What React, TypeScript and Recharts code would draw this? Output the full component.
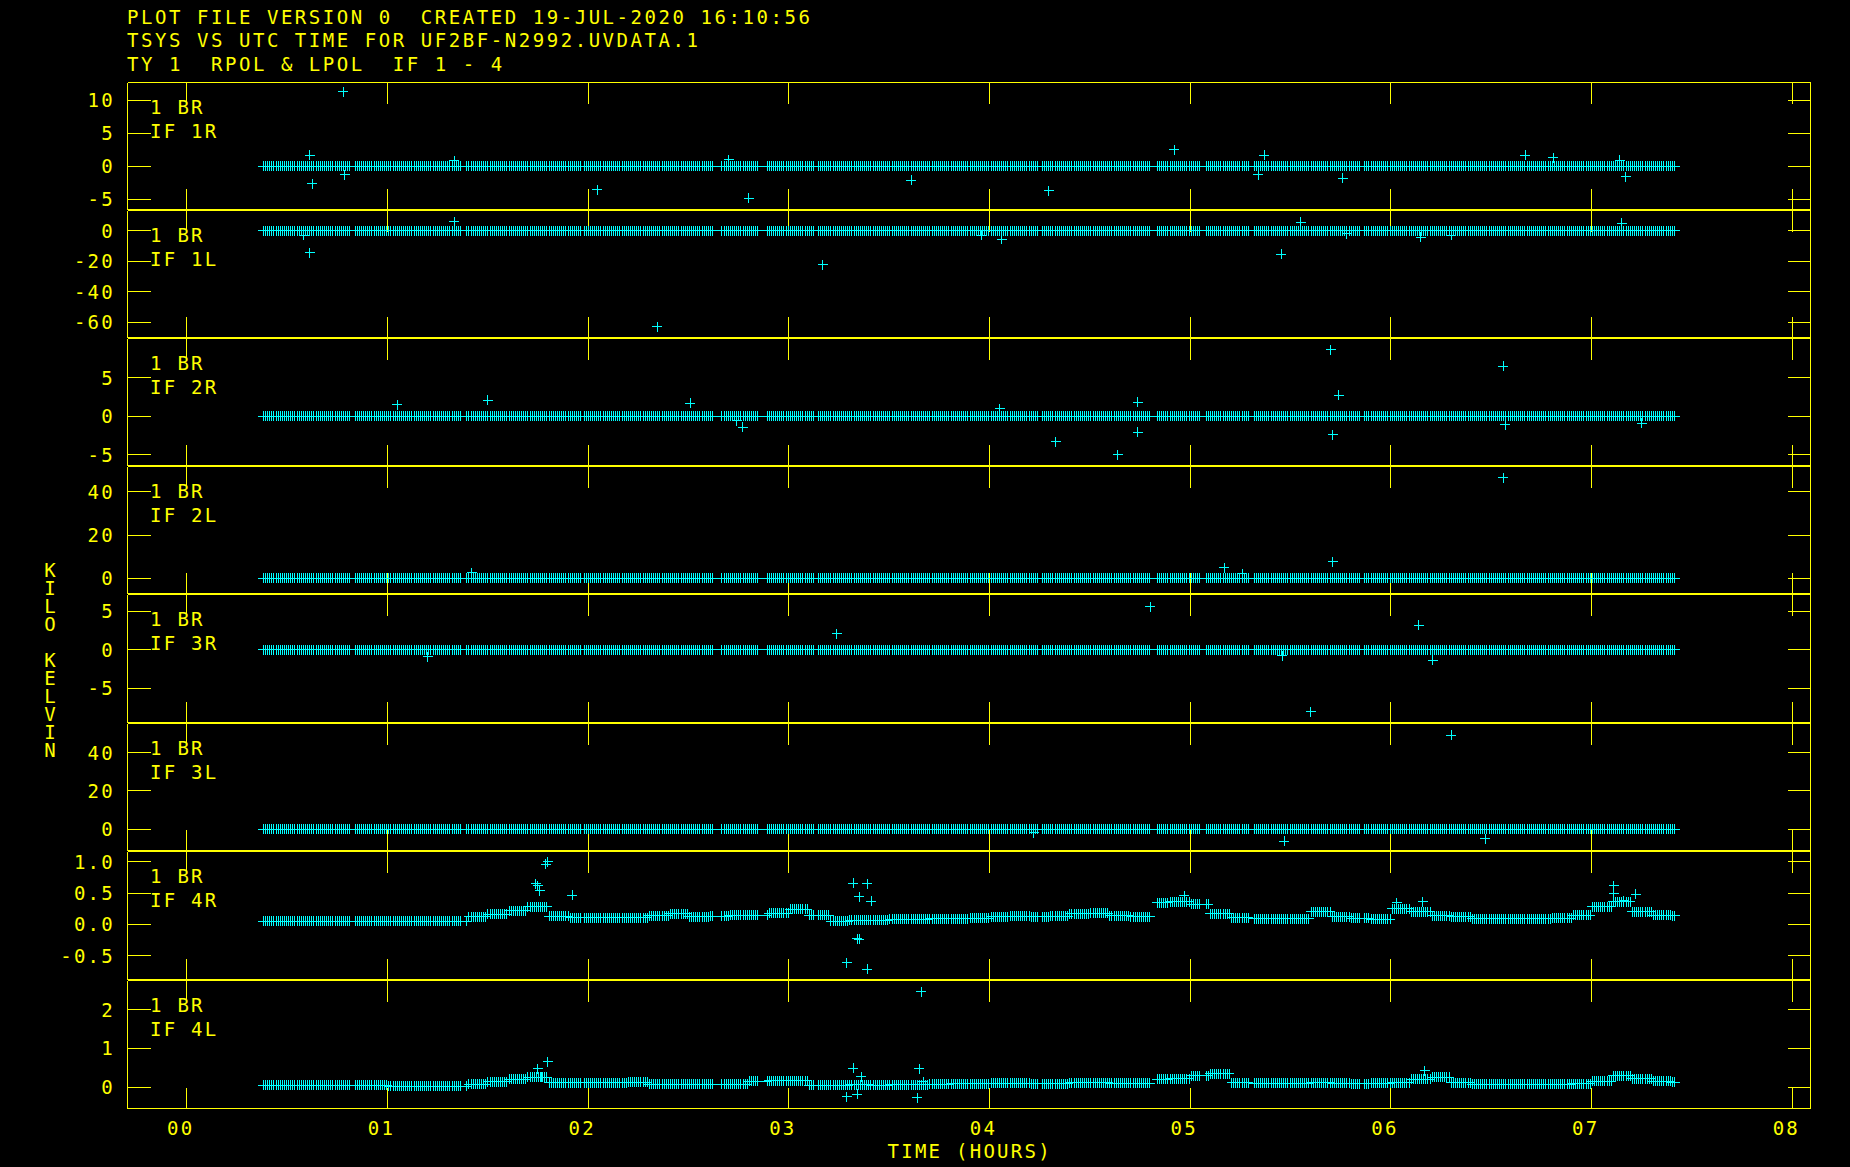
import React from 'react';
import { ScatterChart, Scatter, XAxis, YAxis } from 'recharts';

const CYAN = '#00ffff';
const YELLOW = '#ffff00';
const FONT = '"DejaVu Sans Mono", "Liberation Mono", monospace';

// header lines
const TITLE_LINES = [
  'PLOT FILE VERSION 0  CREATED 19-JUL-2020 16:10:56',
  'TSYS VS UTC TIME FOR UF2BF-N2992.UVDATA.1',
  'TY 1  RPOL & LPOL  IF 1 - 4',
];
const Y_LABEL = 'KILO\u00a0KELVIN';
const X_LABEL = 'TIME (HOURS)';

// x axis (hours)
const X_DOMAIN = [-0.295, 8.091];
const HOUR_TICKS = [0, 1, 2, 3, 4, 5, 6, 7, 8];

// panels
const BASELINE = '1 BR';
const PANEL_NAMES = ['IF 1R', 'IF 1L', 'IF 2R', 'IF 2L', 'IF 3R', 'IF 3L', 'IF 4R', 'IF 4L'];
const Y_DOMAINS = [
  [-6.58, 12.73],
  [-70.2, 13.4],
  [-6.4, 10.1],
  [-7, 51.8],
  [-9.47, 7.19],
  [-11.1, 55.2],
  [-0.88, 1.165],
  [-0.55, 2.75],
];
const Y_TICKS = [
  [-5, 0, 5, 10],
  [-60, -40, -20, 0],
  [-5, 0, 5],
  [0, 20, 40],
  [-5, 0, 5],
  [0, 20, 40],
  [-0.5, 0, 0.5, 1],
  [0, 1, 2],
];

// scans (start, end in hours) and the sampling interval inside them
const SCANS = [
  [0.382, 0.816], [0.839, 1.373], [1.396, 1.964], [1.98, 2.625],
  [2.667, 2.846], [2.892, 3.124], [3.147, 4.241], [4.264, 4.809],
  [4.837, 5.057], [5.08, 5.296], [5.319, 5.85], [5.87, 7.418],
];
const CADENCE = 0.0105;

// Tsys level per 0.1 h bin, starting at 0.3 h (IF 4 only; others sit at 0)
const BIN_START = 0.3;
const BIN_WIDTH = 0.1;
const BASE_4R = [
  0.05, 0.05, 0.05, 0.05, 0.05, 0.05, 0.05, 0.05, 0.05, 0.05, 0.05, 0.12,
  0.16, 0.22, 0.28, 0.13, 0.11, 0.11, 0.11, 0.11, 0.14, 0.17, 0.12, 0.13,
  0.15, 0.15, 0.18, 0.24, 0.15, 0.05, 0.07, 0.07, 0.08, 0.08, 0.09, 0.09,
  0.1, 0.12, 0.13, 0.12, 0.13, 0.17, 0.18, 0.14, 0.12, 0.35, 0.36, 0.32,
  0.17, 0.11, 0.09, 0.09, 0.09, 0.2, 0.12, 0.1, 0.08, 0.25, 0.2, 0.14,
  0.12, 0.09, 0.09, 0.09, 0.09, 0.1, 0.15, 0.28, 0.36, 0.2, 0.15, 0.14,
];
const BASE_4L = [
  0.05, 0.05, 0.05, 0.05, 0.05, 0.05, 0.05, 0.03, 0.03, 0.03, 0.03, 0.07,
  0.14, 0.2, 0.25, 0.12, 0.12, 0.12, 0.12, 0.13, 0.08, 0.07, 0.07, 0.07,
  0.07, 0.15, 0.17, 0.17, 0.05, 0.05, 0.06, 0.05, 0.06, 0.06, 0.08, 0.09,
  0.09, 0.1, 0.1, 0.09, 0.09, 0.12, 0.12, 0.1, 0.1, 0.2, 0.22, 0.3,
  0.35, 0.12, 0.1, 0.1, 0.1, 0.12, 0.1, 0.09, 0.1, 0.12, 0.2, 0.25,
  0.12, 0.08, 0.08, 0.08, 0.08, 0.08, 0.09, 0.15, 0.3, 0.22, 0.15, 0.13,
];

// outlying samples [hour, value]
const OUT_1R = [
  [0.78, 11.3], [0.612, 1.7], [0.626, -2.7], [0.788, -1.3], [1.333, 0.8], [2.045, -3.6],
  [2.7, 0.95], [2.8, -4.9], [3.61, -2.1], [4.295, -3.7], [4.92, 2.5], [5.37, 1.7],
  [5.34, -1.3], [5.76, -1.8], [6.67, 1.7], [6.81, 1.3], [7.17, -1.6], [7.14, 0.9],
];
const OUT_1L = [
  [0.614, -14.4], [0.584, -3], [1.333, 6.1], [2.345, -63], [3.17, -22.2], [4.06, -5.5],
  [3.96, -3], [5.455, -15.5], [5.55, 5.6], [5.78, -1.8], [6.15, -4.2], [7.15, 5], [6.3, -3],
];
const OUT_2R = [
  [1.05, 1.5], [1.5, 2.1], [2.51, 1.7], [2.77, -1.4], [2.74, -0.6], [4.05, 1.0],
  [4.33, -3.3], [4.64, -5.0], [4.74, 1.8], [4.74, -2.1], [5.7, 8.65], [5.74, 2.7],
  [5.71, -2.4], [6.56, 6.5], [6.57, -1.1], [7.25, -0.9],
];
const OUT_2L = [[1.42, 2.7], [5.17, 4.9], [5.26, 2.2], [5.71, 7.6], [6.56, 46.5]];
const OUT_3R = [
  [1.2, -0.9], [3.24, 2.1], [4.8, 5.6], [5.46, -0.8], [5.6, -8.1], [6.14, 3.2], [6.21, -1.4],
];
const OUT_3L = [[4.22, -1.8], [5.47, -6.2], [6.3, 49], [6.47, -4.9]];
const OUT_4R = [
  [1.79, 0.96], [1.8, 1.0], [1.76, 0.54], [1.75, 0.62], [1.74, 0.65], [1.92, 0.47],
  [3.32, 0.66], [3.39, 0.65], [3.35, 0.44], [3.41, 0.37], [3.34, -0.23], [3.35, -0.24],
  [3.29, -0.61], [3.39, -0.72], [4.97, 0.46], [6.03, 0.35], [6.16, 0.36], [7.11, 0.62],
  [7.22, 0.48], [7.11, 0.49], [7.16, 0.38],
];
const OUT_4L = [
  [3.66, 2.46], [1.8, 0.66], [1.75, 0.47], [1.77, 0.26], [3.32, 0.49], [3.65, 0.48],
  [3.29, -0.25], [3.64, -0.27], [3.34, -0.18], [3.36, 0.27], [3.67, 0.14], [6.17, 0.42],
];

const BASES = [null, null, null, null, null, null, BASE_4R, BASE_4L];
const OUTLIERS = [OUT_1R, OUT_1L, OUT_2R, OUT_2L, OUT_3R, OUT_3L, OUT_4R, OUT_4L];

// layout
const PANEL_TOPS = [82, 210, 338, 466, 594, 723, 851, 980, 1108];
const PLOT_LEFT = 127.5;
const PLOT_RIGHT = 1810.5;

const textStyle = { fontFamily: FONT, fontSize: 19, letterSpacing: 2.26 };
const headerStyle = { fontFamily: FONT, fontSize: 19, letterSpacing: 2.55 };

const sampleTimes: number[] = [];
SCANS.forEach(([s, e]) => {
  for (let t = s; t <= e + 1e-9; t += CADENCE) sampleTimes.push(t);
});

function levelAt(base: number[] | null, t: number) {
  if (!base) return 0;
  const i = Math.max(0, Math.min(base.length - 1, Math.floor((t - BIN_START) / BIN_WIDTH)));
  return base[i];
}

const Cross = (props: any) => {
  const { cx, cy } = props;
  if (!Number.isFinite(cx) || !Number.isFinite(cy)) return <g />;
  return (
    <path
      d={`M${cx - 5},${cy}H${cx + 5}M${cx},${cy - 5}V${cy + 5}`}
      stroke={CYAN}
      strokeWidth={1}
      fill="none"
    />
  );
};

// an empty label keeps the tick line drawn
const NoLabel = (p: any) => <g key={p.index} />;

function fmtY(panel: number, v: number) {
  return panel === 6 ? v.toFixed(1) : String(v);
}

function Panel({ index }: { index: number }) {
  const top = PANEL_TOPS[index];
  const plotH = PANEL_TOPS[index + 1] - top;
  const last = index === PANEL_NAMES.length - 1;
  const mb = last ? 60 : 1;
  const height = last ? 0.5 + plotH + mb : plotH + 0.5;
  const base = BASES[index];
  const main = sampleTimes.map((t) => ({ h: t, v: levelAt(base, t) }));
  const extra = OUTLIERS[index].map(([h, v]) => ({ h, v }));
  const innerBottom = height - mb;

  return (
    <div style={{ position: 'absolute', left: 0, top, width: PLOT_RIGHT + 0.5, height }}>
      <ScatterChart
        width={PLOT_RIGHT + 0.5}
        height={height}
        margin={{ top: 0.5, right: 0.5, bottom: mb, left: PLOT_LEFT }}
      >
        <XAxis
          xAxisId="b"
          type="number"
          dataKey="h"
          orientation="bottom"
          mirror
          domain={X_DOMAIN}
          allowDataOverflow
          ticks={HOUR_TICKS}
          interval={0}
          tickSize={21}
          stroke={YELLOW}
          tickLine={{ stroke: YELLOW }}
          axisLine={{ stroke: YELLOW }}
          tick={
            last
              ? (p: any) => (
                  <text
                    key={p.index}
                    x={p.x - 7 + 1.1}
                    y={innerBottom + 26}
                    textAnchor="middle"
                    fill={YELLOW}
                    style={textStyle}
                  >
                    {String(p.payload.value).padStart(2, '0')}
                  </text>
                )
              : NoLabel
          }
        />
        <XAxis
          xAxisId="t"
          type="number"
          dataKey="h"
          orientation="top"
          mirror
          domain={X_DOMAIN}
          allowDataOverflow
          ticks={HOUR_TICKS}
          interval={0}
          tickSize={21}
          stroke={YELLOW}
          tickLine={{ stroke: YELLOW }}
          axisLine={{ stroke: YELLOW }}
          tick={NoLabel}
        />
        <YAxis
          yAxisId="l"
          type="number"
          dataKey="v"
          orientation="left"
          mirror
          domain={Y_DOMAINS[index]}
          allowDataOverflow
          ticks={Y_TICKS[index]}
          interval={0}
          tickSize={23}
          stroke={YELLOW}
          tickLine={{ stroke: YELLOW }}
          axisLine={{ stroke: YELLOW }}
          tick={(p: any) => (
            <text
              key={p.index}
              x={115}
              y={p.y + 7}
              textAnchor="end"
              fill={YELLOW}
              style={textStyle}
            >
              {fmtY(index, p.payload.value)}
            </text>
          )}
        />
        <YAxis
          yAxisId="r"
          type="number"
          dataKey="v"
          orientation="right"
          mirror
          domain={Y_DOMAINS[index]}
          allowDataOverflow
          ticks={Y_TICKS[index]}
          interval={0}
          tickSize={23}
          stroke={YELLOW}
          tickLine={{ stroke: YELLOW }}
          axisLine={{ stroke: YELLOW }}
          tick={NoLabel}
        />
        <Scatter
          xAxisId="b"
          yAxisId="l"
          data={main}
          shape={Cross}
          isAnimationActive={false}
        />
        <Scatter
          xAxisId="b"
          yAxisId="l"
          data={extra}
          shape={Cross}
          isAnimationActive={false}
        />
      </ScatterChart>
    </div>
  );
}

export default function App() {
  return (
    <div
      style={{
        position: 'absolute',
        left: 0,
        top: 0,
        width: 1850,
        height: 1167,
        background: '#000',
        overflow: 'hidden',
      }}
    >
      <style>{`svg line, svg path { shape-rendering: crispEdges; }`}</style>
      {PANEL_NAMES.map((_, i) => (
        <Panel key={i} index={i} />
      ))}
      <svg
        width={1850}
        height={1167}
        style={{ position: 'absolute', left: 0, top: 0, pointerEvents: 'none' }}
      >
        {TITLE_LINES.map((line, i) => (
          <text key={i} x={127} y={23.7 + i * 23.5} fill={YELLOW} style={headerStyle} xmlSpace="preserve">
            {line}
          </text>
        ))}
        {PANEL_NAMES.map((name, i) => (
          <g key={name}>
            <text x={150} y={PANEL_TOPS[i] + 32} fill={YELLOW} style={textStyle}>
              {BASELINE}
            </text>
            <text x={150} y={PANEL_TOPS[i] + 56.4} fill={YELLOW} style={textStyle}>
              {name}
            </text>
          </g>
        ))}
        <text x={969.7} y={1157.5} textAnchor="middle" fill={YELLOW} style={textStyle}>
          {X_LABEL}
        </text>
      </svg>
      {/* vertical axis title: one letter per line */}
      <div
        style={{
          position: 'absolute',
          left: 44.3,
          top: 560.8,
          width: '1ch',
          fontFamily: FONT,
          fontSize: 19,
          lineHeight: '18px',
          color: YELLOW,
          lineBreak: 'anywhere',
          wordBreak: 'break-all',
        }}
      >
        {Y_LABEL}
      </div>
    </div>
  );
}
